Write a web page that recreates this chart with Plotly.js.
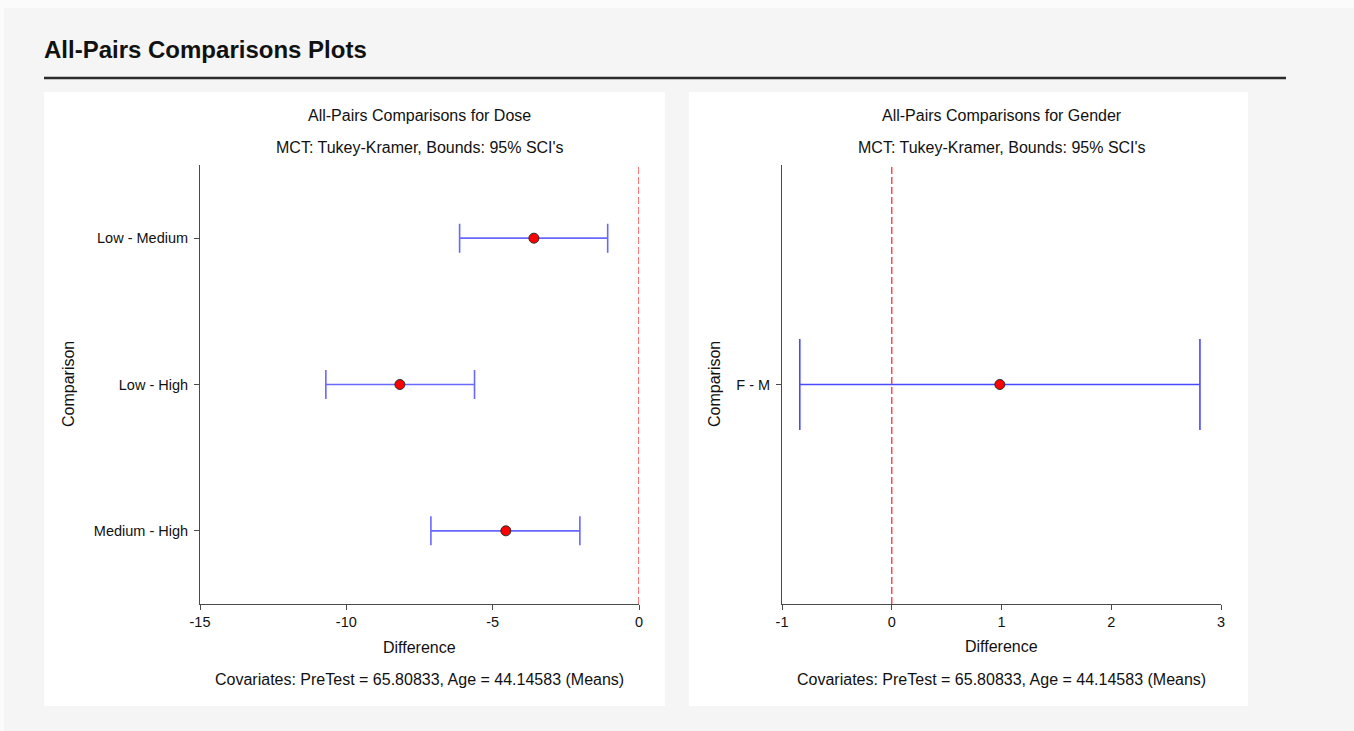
<!DOCTYPE html>
<html>
<head>
<meta charset="utf-8">
<script src="https://cdn.plot.ly/plotly-3.0.1.min.js"></script>
<style>
  html, body { margin: 0; padding: 0; background: #fbfbfb; }
  #chart { width: 1354px; height: 731px; }
</style>
</head>
<body>
<div id="chart"></div>
<script>
// Dose: pairwise differences with simultaneous 95% bounds
const doseComparisons = ['Low - Medium', 'Low - High', 'Medium - High'];
const doseDiff  = [-3.59, -8.17, -4.55];
const doseLower = [-6.13, -10.70, -7.11];
const doseUpper = [-1.07, -5.62, -2.02];
const doseTickVals = [-15, -10, -5, 0];
const doseTickText = ['-15', '-10', '-5', '0'];

// Gender: pairwise difference with simultaneous 95% bounds
const genderComparisons = ['F - M'];
const genderDiff  = [0.985];
const genderLower = [-0.838];
const genderUpper = [2.808];
const genderTickVals = [-1, 0, 1, 2, 3];
const genderTickText = ['-1', '0', '1', '2', '3'];

const mainTitle = 'All-Pairs Comparisons Plots';
const doseTitle = 'All-Pairs Comparisons for Dose';
const genderTitle = 'All-Pairs Comparisons for Gender';
const subTitle = "MCT: Tukey-Kramer, Bounds: 95% SCI's";
const covariateNote = 'Covariates: PreTest = 65.80833, Age = 44.14583 (Means)';

const W = 1354, H = 731;
const px = x => x / W;
const py = y => 1 - y / H;
const FONT = 'Arial, "Liberation Sans", sans-serif';

function intervalTrace(cats, diff, lo, hi, xa, ya, barColor, capHalf) {
  return {
    type: 'scatter', mode: 'markers', xaxis: xa, yaxis: ya,
    x: diff, y: cats,
    marker: { size: 10, color: '#ff0000', line: { color: '#2a2a2a', width: 1 } },
    error_x: {
      type: 'data', symmetric: false,
      array: hi.map((h, i) => h - diff[i]),
      arrayminus: lo.map((l, i) => diff[i] - l),
      color: barColor, thickness: 1.6, width: capHalf
    },
    hoverinfo: 'x+y', showlegend: false
  };
}

const traces = [
  intervalTrace(doseComparisons, doseDiff, doseLower, doseUpper, 'x', 'y', '#6868ff', 14.5),
  intervalTrace(genderComparisons, genderDiff, genderLower, genderUpper, 'x2', 'y2', '#4848ff', 45.5)
];

const axisCommon = {
  showgrid: false, zeroline: false, showline: true,
  linecolor: '#4a4a4a', linewidth: 1,
  ticks: 'outside', ticklen: 5, tickcolor: '#4a4a4a', tickwidth: 1,
  tickfont: { family: FONT, size: 14.5, color: '#111111' },
  fixedrange: true
};

const yDomain = [py(604), py(165)];

const layout = {
  width: W, height: H,
  margin: { l: 0, r: 0, t: 0, b: 0 },
  paper_bgcolor: '#fbfbfb',
  plot_bgcolor: 'rgba(0,0,0,0)',
  font: { family: FONT, color: '#111111' },
  showlegend: false,
  xaxis: Object.assign({}, axisCommon, {
    domain: [px(200), px(639)], anchor: 'y',
    range: [-15, 0], tickmode: 'array', tickvals: doseTickVals, ticktext: doseTickText
  }),
  yaxis: Object.assign({}, axisCommon, {
    domain: yDomain, anchor: 'x',
    type: 'category', categoryorder: 'array', categoryarray: doseComparisons,
    range: [2.5, -0.5], ticklabelstandoff: 3
  }),
  xaxis2: Object.assign({}, axisCommon, {
    domain: [px(782), px(1221)], anchor: 'y2',
    range: [-1, 3], tickmode: 'array', tickvals: genderTickVals, ticktext: genderTickText
  }),
  yaxis2: Object.assign({}, axisCommon, {
    domain: yDomain, anchor: 'x2',
    type: 'category', categoryarray: genderComparisons,
    range: [-0.5, 0.5], ticklabelstandoff: 3
  }),
  shapes: [
    // page area and the two white panels
    { type: 'rect', xref: 'paper', yref: 'paper', layer: 'below',
      x0: px(4), x1: 1, y0: 0, y1: py(8), fillcolor: '#f5f5f5', line: { width: 0 } },
    { type: 'rect', xref: 'paper', yref: 'paper', layer: 'below',
      x0: px(44), x1: px(665), y0: py(706), y1: py(92), fillcolor: '#ffffff', line: { width: 0 } },
    { type: 'rect', xref: 'paper', yref: 'paper', layer: 'below',
      x0: px(689), x1: px(1248), y0: py(706), y1: py(92), fillcolor: '#ffffff', line: { width: 0 } },
    // rule under the heading
    { type: 'line', xref: 'paper', yref: 'paper',
      x0: px(44), x1: px(1286), y0: py(78), y1: py(78), line: { color: '#2b2b2b', width: 2.5 } },
    // zero-difference reference lines
    { type: 'line', xref: 'x', yref: 'y domain', x0: 0, x1: 0, y0: 0, y1: 1,
      line: { color: '#ff4a4a', width: 1.5, dash: '7px,3px' } },
    { type: 'line', xref: 'x2', yref: 'y2 domain', x0: 0, x1: 0, y0: 0, y1: 1,
      line: { color: '#ff4a4a', width: 1.5, dash: '7px,3px' } }
  ],
  annotations: []
};

function note(text, x, y, size, opts) {
  layout.annotations.push(Object.assign({
    text: text, xref: 'paper', yref: 'paper', x: px(x), y: py(y),
    xanchor: 'center', yanchor: 'middle', showarrow: false,
    font: { family: FONT, size: size, color: '#111111' }
  }, opts || {}));
}

note('<b>' + mainTitle + '</b>', 42, 50, 24, { xanchor: 'left' });

// Dose panel texts
note(doseTitle, 419.5, 116, 16);
note(subTitle, 419.5, 147, 16);
note('Difference', 419.5, 647, 16);
note(covariateNote, 419.5, 679, 16);
note('Comparison', 68, 384, 16, { textangle: -90 });

// Gender panel texts
note(genderTitle, 1001.5, 116, 16);
note(subTitle, 1001.5, 147, 16);
note('Difference', 1001.5, 646, 16);
note(covariateNote, 1001.5, 679, 16);
note('Comparison', 714, 384, 16, { textangle: -90 });

Plotly.newPlot('chart', traces, layout, { displayModeBar: false, staticPlot: true });
</script>
</body>
</html>
